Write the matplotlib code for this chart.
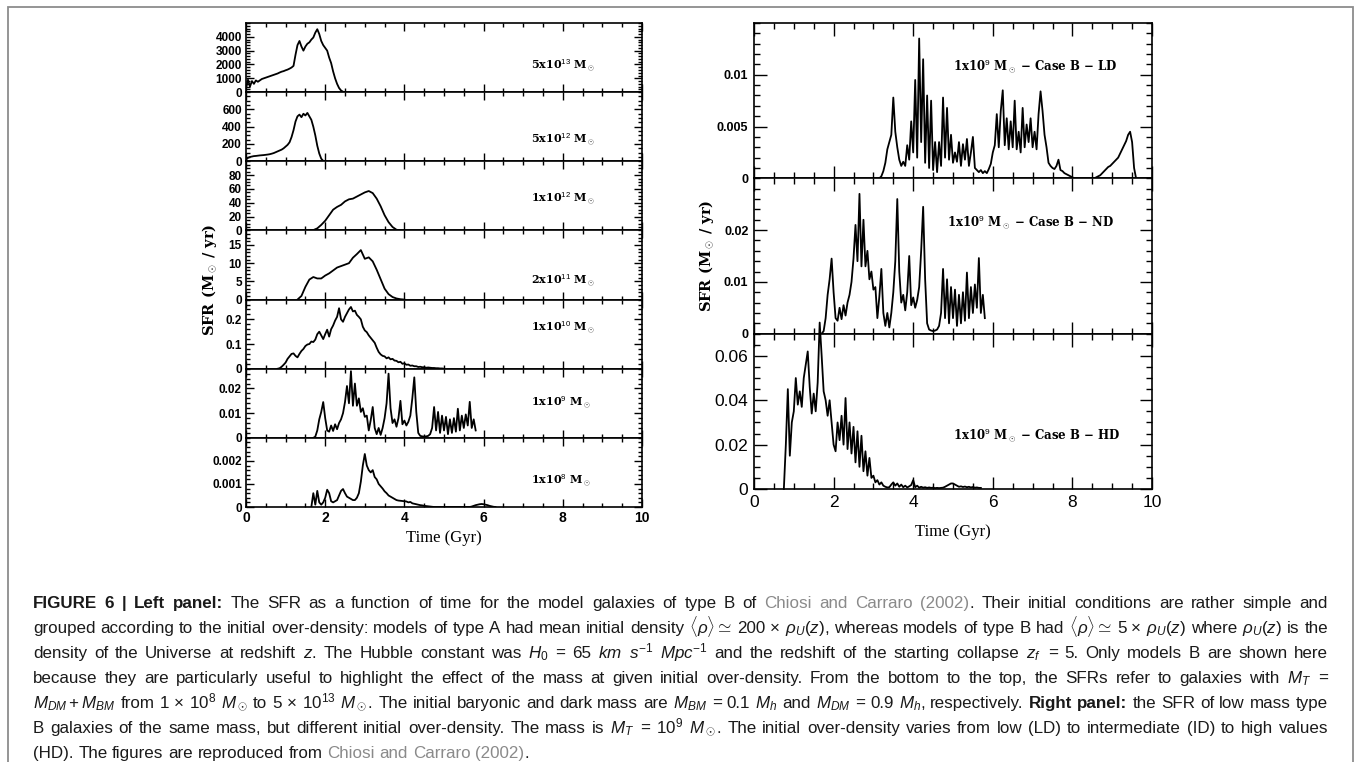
import numpy as np
import matplotlib.pyplot as plt
from matplotlib.patches import Rectangle
from matplotlib.ticker import MultipleLocator

plt.rcParams['mathtext.fontset'] = 'custom'
plt.rcParams['mathtext.rm'] = 'Liberation Sans'
plt.rcParams['mathtext.it'] = 'Liberation Sans:italic'
plt.rcParams['mathtext.bf'] = 'Liberation Sans:bold'

# ---------------- data: SFR (Msun/yr) ----------------
# each curve: start time (Gyr), sampling step (Gyr), values
t0_5e13, dt_5e13 = 0.0, 0.05
sfr_5e13 = [300, 900, 400, 800, 600, 850, 750, 850, 950, 1000,
            1050, 1100, 1150, 1200, 1250, 1300, 1350, 1420, 1480, 1520,
            1580, 1630, 1700, 1780, 1900, 2700, 3400, 3700, 3300, 3000,
            3300, 3500, 3600, 3800, 3950, 4300, 4550, 4200, 3700, 3400,
            3200, 3000, 2500, 2100, 1500, 1000, 600, 300, 120, 30, 0]

t0_5e12, dt_5e12 = 0.0, 0.05
sfr_5e12 = [20, 40, 50, 55, 60, 62, 65, 68, 70, 72,
            75, 78, 82, 88, 95, 105, 115, 125, 135, 150,
            170, 190, 220, 280, 360, 460, 520, 540, 510, 550,
            530, 560, 520, 480, 400, 300, 180, 90, 30, 5, 0]

t0_1e12, dt_1e12 = 1.6, 0.1
sfr_1e12 = [0, 0.5, 3, 8, 14, 22, 30, 34, 37, 42, 45, 46, 49, 52, 55, 57,
            54, 46, 35, 22, 12, 5, 1, 0]

t0_2e11, dt_2e11 = 1.3, 0.1
sfr_2e11 = [0, 1.0, 3.5, 5.5, 6.2, 5.8, 5.8, 6.6, 7.2, 8.0, 8.8, 9.2, 9.6,
            10.0, 11.5, 12.5, 13.6, 11.2, 11.6, 10.5, 8.2, 5.6, 3.0, 1.5,
            0.7, 0.3, 0.1, 0]

t0_1e10, dt_1e10 = 0.8, 0.05
sfr_1e10 = [0, 0.002, 0.008, 0.016, 0.025, 0.04, 0.05, 0.06, 0.062, 0.052,
            0.046, 0.06, 0.072, 0.08, 0.092, 0.098, 0.1, 0.11, 0.108, 0.118,
            0.14, 0.15, 0.135, 0.12, 0.14, 0.158, 0.13, 0.16, 0.175, 0.195,
            0.21, 0.245, 0.2, 0.19, 0.21, 0.225, 0.24, 0.25, 0.232, 0.235,
            0.218, 0.21, 0.2, 0.17, 0.155, 0.148, 0.135, 0.125, 0.115, 0.105,
            0.085, 0.068, 0.058, 0.052, 0.05, 0.042, 0.046, 0.038, 0.04, 0.033,
            0.032, 0.026, 0.028, 0.02, 0.022, 0.016, 0.017, 0.012, 0.013, 0.01,
            0.01, 0.007, 0.008, 0.006, 0.006, 0.004, 0.005, 0.004, 0.003, 0.003,
            0.002, 0.002, 0.001, 0.001, 0.0]

# 1e9 Msun, case B - ND (same model in both panels)
t0_1e9, dt_1e9 = 1.7, 0.05
sfr_1e9 = [0.0, 0.0005, 0.003, 0.0075, 0.0105, 0.0145, 0.008, 0.003, 0.0025, 0.005,
           0.0028, 0.0055, 0.0035, 0.006, 0.0075, 0.010, 0.0145, 0.021, 0.014, 0.027,
           0.013, 0.022, 0.013, 0.016, 0.0105, 0.012, 0.0085, 0.009, 0.003, 0.0072,
           0.0125, 0.004, 0.0015, 0.004, 0.0012, 0.004, 0.008, 0.014, 0.026, 0.012,
           0.006, 0.0075, 0.0045, 0.008, 0.015, 0.0055, 0.007, 0.005, 0.0065, 0.009,
           0.016, 0.0245, 0.0105, 0.002, 0.0008, 0.0006, 0.0005, 0.0006, 0.0008, 0.0015,
           0.004, 0.0125, 0.003, 0.0105, 0.002, 0.009, 0.003, 0.0085, 0.0015, 0.0075,
           0.002, 0.008, 0.0025, 0.0118, 0.003, 0.009, 0.004, 0.0095, 0.005, 0.0146,
           0.004, 0.0075, 0.003]

t0_1e8, dt_1e8 = 1.65, 0.05
sfr_1e8 = [0, 0.0006, 0.0001, 0.0007, 0.0002, 0.0001, 0.0002, 0.0004, 0.00075, 0.0006,
           0.00025, 0.0002, 0.00025, 0.0003, 0.0005, 0.0007, 0.00078, 0.0006, 0.00045, 0.0004,
           0.00035, 0.0003, 0.0003, 0.0004, 0.0006, 0.0011, 0.0018, 0.0023, 0.0018, 0.0016,
           0.0015, 0.0016, 0.0013, 0.0012, 0.0010, 0.0009, 0.0008, 0.00068, 0.0006, 0.0005,
           0.00045, 0.0004, 0.00035, 0.0003, 0.00028, 0.00027, 0.00026, 0.00025, 0.00024, 0.0002,
           0.00022, 0.00016, 0.00014, 0.00012, 0.0001, 0.00008, 0.00007, 0.00005, 0.00004, 0.00003,
           0.00002, 0.00001, 0, 0, 0, 0, 0, 0, 0, 0,
           0, 0, 0, 0, 0, 0, 0, 0, 0, 0,
           0, 0.00002, 0.00005, 0.00008, 0.0001, 0.00012, 0.00013, 0.00012, 0.0001, 0.00008,
           0.00005, 0.00003, 0.00001, 0]

# right panel: 1e9 Msun, case B - LD and HD
t0_ld, dt_ld = 3.15, 0.05
sfr_ld = [0, 0.0002, 0.0007, 0.0015, 0.0028, 0.0035, 0.0042, 0.0078, 0.0045, 0.003,
          0.0018, 0.0012, 0.0016, 0.0012, 0.0032, 0.0018, 0.0055, 0.0025, 0.0095, 0.002,
          0.0135, 0.0035, 0.0115, 0.0015, 0.008, 0.001, 0.0075, 0.0008, 0.0035, 0.0006,
          0.0035, 0.0012, 0.0078, 0.002, 0.0068, 0.0018, 0.0042, 0.0015, 0.0025, 0.0016,
          0.0035, 0.0012, 0.0033, 0.0018, 0.0038, 0.0012, 0.0025, 0.004, 0.001, 0.0008,
          0.0006, 0.0008, 0.0005, 0.0007, 0.0005, 0.0009, 0.0014, 0.0025, 0.0032, 0.0062,
          0.003, 0.0065, 0.0085, 0.0032, 0.0058, 0.0028, 0.0055, 0.003, 0.0075, 0.0028,
          0.0045, 0.0025, 0.0068, 0.003, 0.0052, 0.0035, 0.0058, 0.003, 0.0045, 0.0028,
          0.0062, 0.0084, 0.0065, 0.0042, 0.003, 0.0015, 0.0012, 0.001, 0.0009, 0.0012,
          0.0018, 0.0008, 0.0007, 0.0005, 0.0004, 0.0003, 0.0002, 0.0001, 0, 0,
          0, 0, 0, 0, 0, 0, 0, 0, 0, 0.0001,
          0.0002, 0.0003, 0.0005, 0.0007, 0.0009, 0.0011, 0.0012, 0.0014, 0.0016, 0.0018,
          0.002, 0.0024, 0.0028, 0.0032, 0.0036, 0.0042, 0.0045, 0.0035, 0.001, 0]

t0_hd, dt_hd = 0.75, 0.05
sfr_hd = [0.0, 0.02, 0.045, 0.015, 0.03, 0.035, 0.05, 0.038, 0.044, 0.037,
          0.05, 0.056, 0.062, 0.046, 0.034, 0.043, 0.035, 0.048, 0.075, 0.06,
          0.044, 0.04, 0.033, 0.04, 0.03, 0.02, 0.017, 0.03, 0.022, 0.033,
          0.02, 0.041, 0.018, 0.03, 0.016, 0.028, 0.012, 0.026, 0.01, 0.024,
          0.008, 0.017, 0.006, 0.014, 0.005, 0.006, 0.003, 0.004, 0.002, 0.003,
          0.0015, 0.001, 0.0007, 0.0008, 0.002, 0.003, 0.0015, 0.0025, 0.001, 0.002,
          0.0008, 0.0015, 0.0007, 0.0012, 0.0018, 0.004, 0.0008, 0.0015, 0.0006, 0.001,
          0.0006, 0.0008, 0.0005, 0.0007, 0.0005, 0.0006, 0.0004, 0.0005, 0.0004, 0.0005,
          0.0006, 0.001, 0.0015, 0.002, 0.0025, 0.0025, 0.002, 0.0015, 0.001, 0.0012,
          0.0009, 0.0011, 0.0008, 0.001, 0.0007, 0.0009, 0.0006, 0.0007, 0.0005, 0.0005]

left_names = ['5x10$^{13}$', '5x10$^{12}$', '1x10$^{12}$', '2x10$^{11}$',
              '1x10$^{10}$', '1x10$^{9}$', '1x10$^{8}$']
left_series = [(t0_5e13, dt_5e13, sfr_5e13), (t0_5e12, dt_5e12, sfr_5e12),
               (t0_1e12, dt_1e12, sfr_1e12), (t0_2e11, dt_2e11, sfr_2e11),
               (t0_1e10, dt_1e10, sfr_1e10), (t0_1e9, dt_1e9, sfr_1e9),
               (t0_1e8, dt_1e8, sfr_1e8)]
left_ymax = [5000, 800, 100, 19, 0.28, 0.028, 0.003]
left_yticks = [[0, 1000, 2000, 3000, 4000], [0, 200, 400, 600], [0, 20, 40, 60, 80],
               [0, 5, 10, 15], [0, 0.1, 0.2], [0, 0.01, 0.02], [0, 0.001, 0.002]]
left_minor = [200, 50, 5, 1, 0.02, 0.002, 0.0002]
left_label_y = [0.38, 0.31, 0.45, 0.27, 0.59, 0.5, 0.38]

right_names = ['LD', 'ND', 'HD']
right_series = [(t0_ld, dt_ld, sfr_ld), (t0_1e9, dt_1e9, sfr_1e9), (t0_hd, dt_hd, sfr_hd)]
right_ymax = [0.015, 0.03, 0.07]
right_yticks = [[0, 0.005, 0.01], [0, 0.01, 0.02], [0, 0.02, 0.04, 0.06]]
right_minor = [0.001, 0.002, 0.005]
right_label_pos = [(5.0, 0.72), (4.85, 0.72), (5.0, 0.35)]

time_ticks = [0, 2, 4, 6, 8, 10]


def curve(t0, dt, vals):
    return t0 + dt * np.arange(len(vals)), np.array(vals)


def fmt(v):
    return '0' if v == 0 else f'{v:g}'


W, H = 1354, 762
fig = plt.figure(figsize=(W / 100, H / 100), dpi=100)


def box(x0, y0, x1, y1):
    return [x0 / W, 1 - y1 / H, (x1 - x0) / W, (y1 - y0) / H]


fig.add_artist(Rectangle((8 / W, -0.05), (1353 - 8) / W, 1.05 - 7 / H,
                         transform=fig.transFigure, fill=False,
                         ec='#8c8c8c', lw=1.3, clip_on=False))

small_bold = dict(family='Liberation Sans', weight='bold', size=8.5)
big_reg = dict(family='Liberation Sans', size=12.5)

# ---------------- left panel ----------------
h = (507 - 23) / 7
for i in range(7):
    top = 23 + i * h
    ax = fig.add_axes(box(246, top, 642, top + h))
    t, v = curve(*left_series[i])
    ax.plot(t, v, color='k', lw=1.3)
    ax.set_xlim(0, 10)
    ax.set_ylim(0, left_ymax[i])
    ax.set_yticks(left_yticks[i], [fmt(y) for y in left_yticks[i]], fontdict=small_bold)
    ax.yaxis.set_minor_locator(MultipleLocator(left_minor[i]))
    ax.set_xticks(time_ticks)
    ax.xaxis.set_minor_locator(MultipleLocator(0.5))
    if i == 6:
        ax.set_xticklabels([str(x) for x in time_ticks], fontdict=dict(small_bold, size=10))
    else:
        ax.set_xticklabels([])
    ax.tick_params(which='both', direction='in', top=True, right=True, width=1.0, pad=3)
    ax.tick_params(which='major', length=6)
    ax.tick_params(which='minor', length=3)
    for s in ax.spines.values():
        s.set_linewidth(1.2)
    ax.text(7.2, left_label_y[i], left_names[i] + ' M$_\\odot$',
            transform=ax.get_xaxis_transform(), family='DejaVu Serif',
            fontweight='bold', fontsize=8, va='center')

fig.text(210 / W, 1 - 280 / H, 'SFR (M$_\\odot$ / yr)', rotation=90, ha='center',
         va='center', family='DejaVu Serif', fontweight='bold', fontsize=10.5)
fig.text(444 / W, 1 - 538 / H, 'Time (Gyr)', ha='center', va='center',
         family='Liberation Serif', fontsize=12)

# ---------------- right panel ----------------
h = (489 - 23) / 3
for i in range(3):
    top = 23 + i * h
    ax = fig.add_axes(box(754, top, 1152, top + h))
    t, v = curve(*right_series[i])
    ax.plot(t, v, color='k', lw=1.3, clip_on=(i != 2))
    ax.set_xlim(0, 10)
    ax.set_ylim(0, right_ymax[i])
    yfont = big_reg if i == 2 else dict(small_bold, size=9)
    ax.set_yticks(right_yticks[i], [fmt(y) for y in right_yticks[i]], fontdict=yfont)
    ax.yaxis.set_minor_locator(MultipleLocator(right_minor[i]))
    ax.set_xticks(time_ticks)
    ax.xaxis.set_minor_locator(MultipleLocator(0.5))
    if i == 2:
        ax.set_xticklabels([str(x) for x in time_ticks], fontdict=big_reg)
    else:
        ax.set_xticklabels([])
    ax.tick_params(which='both', direction='in', top=True, right=True, width=1.0, pad=4)
    ax.tick_params(which='major', length=9)
    ax.tick_params(which='minor', length=4.5)
    for s in ax.spines.values():
        s.set_linewidth(1.2)
    lx, ly = right_label_pos[i]
    ax.text(lx, ly, '1x10$^9$ M$_\\odot$ \u2212 Case B \u2212 ' + right_names[i],
            transform=ax.get_xaxis_transform(), family='DejaVu Serif',
            fontweight='bold', fontsize=8.5, va='center')

fig.text(707 / W, 1 - 256 / H, 'SFR (M$_\\odot$ / yr)', rotation=90, ha='center',
         va='center', family='DejaVu Serif', fontweight='bold', fontsize=10.5)
fig.text(953 / W, 1 - 532 / H, 'Time (Gyr)', ha='center', va='center',
         family='Liberation Serif', fontsize=12)

# ---------------- caption ----------------
caption = [
    [('b', 'FIGURE 6 | Left panel:'),
     ('n', ' The SFR as a function of time for the model galaxies of type B of '),
     ('g', 'Chiosi and Carraro (2002)'),
     ('n', '. Their initial conditions are rather simple and')],
    [('n', r'grouped according to the initial over-density: models of type A had mean initial density '
           r'$\langle\rho\rangle\simeq$ 200 × $\rho_U(z)$, whereas models of type B had '
           r'$\langle\rho\rangle\simeq$ 5 × $\rho_U(z)$ where $\rho_U(z)$ is the')],
    [('n', r'density of the Universe at redshift $z$. The Hubble constant was $H_0$ = 65 $km$ '
           r'$s^{-1}$ $Mpc^{-1}$ and the redshift of the starting collapse $z_f$ = 5. Only models B are shown here')],
    [('n', r'because they are particularly useful to highlight the effect of the mass at given initial '
           r'over-density. From the bottom to the top, the SFRs refer to galaxies with $M_T$ =')],
    [('n', r'$M_{DM}+M_{BM}$ from 1 × 10$^8$ $M_\odot$ to 5 × 10$^{13}$ $M_\odot$. The initial baryonic '
           r'and dark mass are $M_{BM}$ = 0.1 $M_h$ and $M_{DM}$ = 0.9 $M_h$, respectively. '),
     ('b', 'Right panel:'),
     ('n', ' the SFR of low mass type')],
    [('n', r'B galaxies of the same mass, but different initial over-density. The mass is $M_T$ = '
           r'10$^9$ $M_\odot$. The initial over-density varies from low (LD) to intermediate (ID) to high values')],
    [('n', '(HD). The figures are reproduced from '),
     ('g', 'Chiosi and Carraro (2002)'),
     ('n', '.')],
]
cap_style = {'n': dict(color='#1a1a1a'),
             'b': dict(color='#1a1a1a', fontweight='bold'),
             'g': dict(color='#8a8a8a')}
CAP_X0, CAP_X1 = 33, 1328
CAP_Y0, CAP_DY = 608, 25   # baseline of the first line, line spacing (px)


def split_words(s):
    parts, cur, inmath = [], '', False
    for ch in s:
        if ch == '$':
            inmath = not inmath
        if ch == ' ' and not inmath:
            parts.append(cur)
            cur = ''
        else:
            cur += ch
    parts.append(cur)
    return parts


renderer = fig.canvas.get_renderer()
base = 10.0
lines_art = []
for k, line in enumerate(caption):
    words = [[]]
    for st, txt in line:
        for j, p in enumerate(split_words(txt)):
            if j > 0:
                words.append([])
            if p:
                words[-1].append((p, st))
    words = [w for w in words if w]
    y = 1 - (CAP_Y0 + CAP_DY * k) / H
    lines_art.append([[fig.text(0, y, p, va='baseline', family='Liberation Sans',
                                fontsize=base, **cap_style[st]) for p, st in w]
                      for w in words])


def wd(a):
    return a.get_window_extent(renderer).width


probe = fig.text(0, 0, 'a a', family='Liberation Sans', fontsize=base)
probe2 = fig.text(0, 0, 'aa', family='Liberation Sans', fontsize=base)
space = wd(probe) - wd(probe2)
probe.remove()
probe2.remove()

# scale the caption font so the justified lines get natural word spacing
ratios = []
for arts in lines_art[:-1]:
    natural = sum(wd(a) for ws in arts for a in ws) + space * (len(arts) - 1)
    ratios.append((CAP_X1 - CAP_X0) / natural)
scale = min(ratios)
for arts in lines_art:
    for ws in arts:
        for a in ws:
            a.set_fontsize(base * scale)
space *= scale

for k, arts in enumerate(lines_art):
    widths = [[wd(a) for a in ws] for ws in arts]
    total = sum(sum(w) for w in widths)
    if k < len(lines_art) - 1:
        gap = (CAP_X1 - CAP_X0 - total) / (len(arts) - 1)
    else:
        gap = space
    x = CAP_X0
    for ws, wl in zip(arts, widths):
        for a, w in zip(ws, wl):
            a.set_x(x / W)
            x += w
        x += gap

fig.savefig('out.png', dpi=100)
